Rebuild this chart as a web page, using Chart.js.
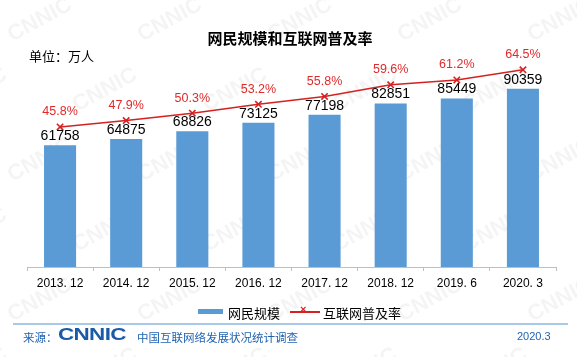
<!DOCTYPE html>
<html>
<head>
<meta charset="utf-8">
<script src="https://cdn.jsdelivr.net/npm/chart.js@4.4.1/dist/chart.umd.min.js"></script>
<style>
  html, body { margin: 0; padding: 0; background: #fff; }
  #wrap { position: relative; width: 577px; height: 357px; overflow: hidden; font-family: "Liberation Sans", "Noto Sans CJK SC", sans-serif; }
  #wm { position: absolute; left: 0; top: 0; width: 577px; height: 357px; }
  #c { position: absolute; left: 0; top: 0; }
  .t { position: absolute; white-space: nowrap; line-height: 1; }
  #title { left: 0; width: 580px; text-align: center; top: 27px; font: bold 15px "Noto Sans CJK SC", sans-serif; color: #000; }
  #unit { left: 29px; top: 46px; font: 13px "Noto Sans CJK SC", sans-serif; color: #000; }
  .lg { font: 13px "Noto Sans CJK SC", sans-serif; color: #000; top: 303px; }
  #footline { position: absolute; left: 13px; top: 323px; width: 555px; height: 2px; background: #a9c8e8; }
  .ft { color: #1f62b0; font: 11.5px "Noto Sans CJK SC", sans-serif; top: 329px; }
  #logo { position: absolute; left: 58px; top: 326px; font: 900 17px "Liberation Sans", sans-serif; color: #1a5aa8; transform: scaleX(1.32); transform-origin: left top; letter-spacing: -0.5px; line-height: 1; }
</style>
</head>
<body>
<div id="wrap">
  <canvas id="wm" width="577" height="357"></canvas>
  <canvas id="c" width="577" height="357"></canvas>
  <div class="t" id="title">网民规模和互联网普及率</div>
  <div class="t" id="unit">单位：万人</div>
  <div style="position:absolute;left:198px;top:309px;width:25px;height:5px;background:#5b9bd5;"></div>
  <div class="t lg" style="left:228px;">网民规模</div>
  <div style="position:absolute;left:290px;top:311px;width:30px;height:1.5px;background:#d42121;"></div>
  <div class="t" style="left:300px;top:303px;font:bold 11px 'Liberation Sans';color:#d42121;">×</div>
  <div class="t lg" style="left:323px;">互联网普及率</div>
  <div id="footline"></div>
  <div class="t ft" style="left:23px;">来源：</div>
  <div id="logo">CNNIC</div>
  <div class="t ft" style="left:137px;">中国互联网络发展状况统计调查</div>
  <div class="t" style="left:517px;top:330px;font:11px 'Liberation Sans';color:#1f62b0;">2020.3</div>
</div>
<script>
const categories = ["2013. 12", "2014. 12", "2015. 12", "2016. 12", "2017. 12", "2018. 12", "2019. 6", "2020. 3"];
const netizens = [61758, 64875, 68826, 73125, 77198, 82851, 85449, 90359];
const penetration = [45.8, 47.9, 50.3, 53.2, 55.8, 59.6, 61.2, 64.5];

// faint background watermark
(function () {
  const w = document.getElementById('wm').getContext('2d');
  w.fillStyle = 'rgba(0,0,0,0.045)';
  w.font = 'bold 22px "Liberation Sans"';
  w.textAlign = 'center';
  w.textBaseline = 'middle';
  for (let r = -1; r < 6; r++) {
    for (let k = -1; k < 6; k++) {
      const x = 40 + k * 130 + (r % 2) * 65;
      const y = 20 + r * 70;
      w.save();
      w.translate(x, y);
      w.rotate(-0.5);
      w.fillText('CNNIC', 0, 0);
      w.restore();
    }
  }
})();

const labelPlugin = {
  id: 'labels',
  afterDatasetsDraw(chart) {
    const ctx = chart.ctx;
    ctx.save();
    ctx.textAlign = 'center';
    ctx.textBaseline = 'middle';
    const m0 = chart.getDatasetMeta(0);
    ctx.fillStyle = '#000';
    ctx.font = '14px "Liberation Sans"';
    m0.data.forEach((el, i) => {
      ctx.fillText(String(netizens[i]), el.x, el.y - 9);
    });
    const m1 = chart.getDatasetMeta(1);
    ctx.fillStyle = '#e02a2a';
    ctx.font = '12.5px "Liberation Sans"';
    m1.data.forEach((el, i) => {
      ctx.fillText(penetration[i].toFixed(1) + '%', el.x, el.y - 15);
    });
    ctx.restore();
  }
};

new Chart(document.getElementById('c'), {
  data: {
    labels: categories,
    datasets: [
      {
        type: 'bar',
        label: '网民规模',
        data: netizens,
        backgroundColor: '#5b9bd5',
        yAxisID: 'y',
        barPercentage: 0.485,
        categoryPercentage: 1.0,
        order: 2
      },
      {
        type: 'line',
        label: '互联网普及率',
        data: penetration,
        borderColor: '#d42121',
        backgroundColor: '#d42121',
        borderWidth: 1.5,
        pointStyle: 'crossRot',
        pointRadius: 4.5,
        pointBorderWidth: 1.6,
        pointBorderColor: '#d42121',
        tension: 0,
        yAxisID: 'y1',
        order: 1
      }
    ]
  },
  options: {
    responsive: false,
    animation: false,
    devicePixelRatio: 1,
    layout: { padding: { left: 27, right: 21, top: 53, bottom: 0 } },
    plugins: { legend: { display: false }, tooltip: { enabled: false }, title: { display: false } },
    scales: {
      x: {
        offset: true,
        grid: { display: true, drawOnChartArea: false, drawTicks: true, tickLength: 4, color: '#bfbfbf', offset: true },
        border: { display: true, color: '#bfbfbf', width: 1 },
        ticks: { color: '#000', font: { family: '"Liberation Sans"', size: 12 }, padding: 5, maxRotation: 0, autoSkip: false },
        afterFit(s) { s.height = 90; }
      },
      y: { display: false, min: 0, max: 108500 },
      y1: { display: false, min: 0, max: 70, position: 'right' }
    }
  },
  plugins: [labelPlugin]
});
</script>
</body>
</html>
